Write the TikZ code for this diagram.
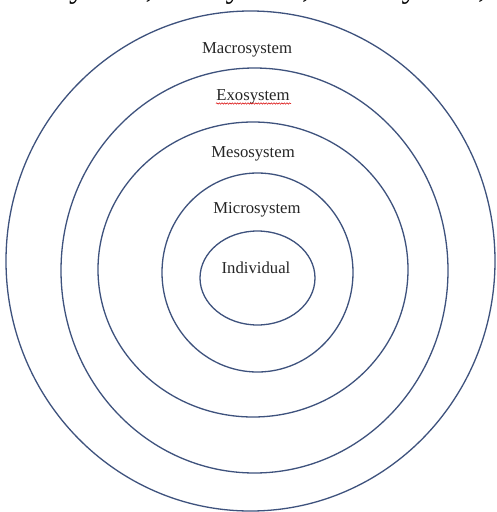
\documentclass[tikz,border=0pt]{standalone}
\usepackage{fontspec}
\setmainfont{Liberation Serif}
\usetikzlibrary{shapes.geometric,decorations.pathmorphing}
\definecolor{ringblue}{RGB}{62,82,125}
\tikzset{
  ring/.style={draw=ringblue, line width=1.3pt, ellipse, inner sep=0pt, fill=none},
  lbl/.style={anchor=base, inner sep=0pt, font=\fontsize{16.7}{18}\selectfont, text=black!85},
  squiggle/.style={draw=red!85!black, line width=0.5pt, decorate, decoration={snake, amplitude=0.7pt, segment length=2.6pt}}
}
\begin{document}
\begin{tikzpicture}[x=1pt,y=-1pt]
\useasboundingbox (0,0) rectangle (496,512);
\fill[white] (0,0) rectangle (496,512);
\begin{scope}
  \clip (0,0) rectangle (496,512);
  \node[anchor=base west, inner sep=0pt, font=\fontsize{32}{36}\selectfont] (toptext) at (-27,-3) {Macrosystem, Exosystem, Mesosystem,};
\end{scope}
\node[ring, minimum width=489pt, minimum height=500pt] (macro) at (250.5,261) {};
\node[ring, minimum width=387pt, minimum height=405pt] (exo) at (254.5,270.5) {};
\node[ring, minimum width=310pt, minimum height=295pt] (meso) at (253,269.5) {};
\node[ring, minimum width=191pt, minimum height=199pt] (micro) at (257.5,272.5) {};
\node[ring, minimum width=115pt, minimum height=94pt] (indiv) at (257.5,278) {};
\node[lbl] (macrolbl) at (247,53) {Macrosystem};
\node[lbl] (exolbl) at (253,100) {Exosystem};
\node[lbl] (mesolbl) at (253,157) {Mesosystem};
\node[lbl] (microlbl) at (257,213) {Microsystem};
\node[lbl] (indivlbl) at (256,273) {Individual};
\coordinate (sqa) at (216,103.5);
\coordinate (sqb) at (291,103.5);
\draw[squiggle] (sqa) -- (sqb);
\end{tikzpicture}
\end{document}
